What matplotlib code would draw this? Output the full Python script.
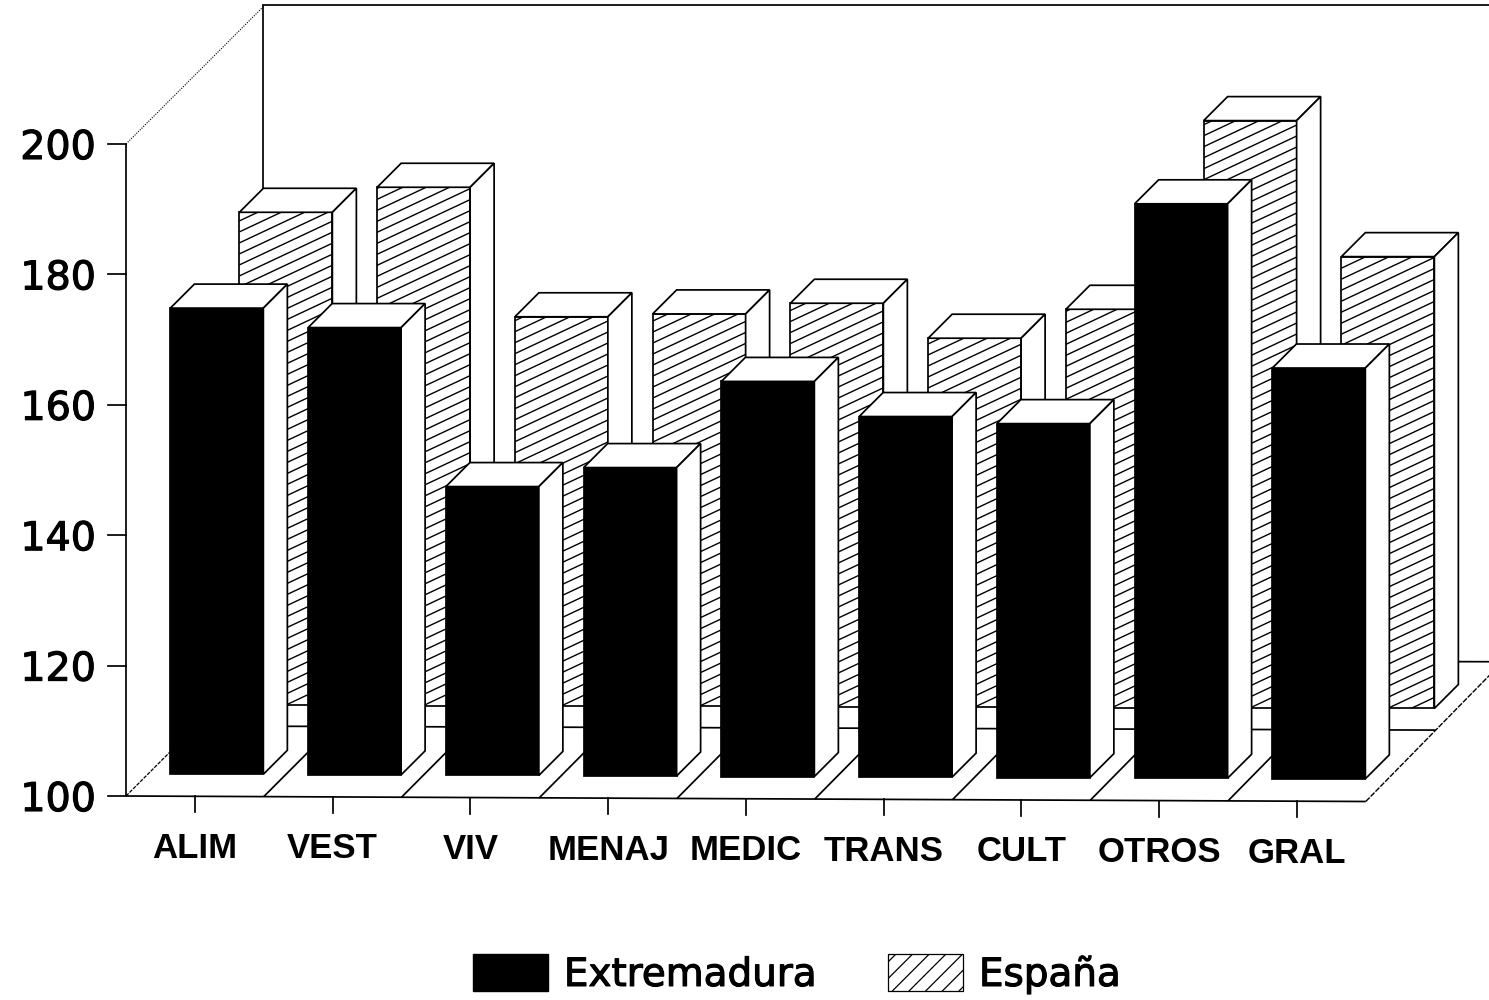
import numpy as np
import matplotlib
matplotlib.use("Agg")
import matplotlib.pyplot as plt
import matplotlib.patheffects as pe
from matplotlib.patches import Polygon, Patch
from matplotlib.collections import LineCollection

categories = ["ALIM", "VEST", "VIV", "MENAJ", "MEDIC", "TRANS", "CULT", "OTROS", "GRAL"]
extremadura = [171.5, 168.6, 144.3, 147.3, 160.6, 155.3, 154.3, 188.1, 163.0]
espana = [175.6, 179.5, 159.7, 160.2, 161.9, 156.6, 161.1, 190.1, 169.3]
y_ticks = [100, 120, 140, 160, 180, 200]

# pseudo 3d layout, all in reference pixels
W, H = 1489, 1000
X0, Y0 = 126, 796
CAT_PX = 137.75
VAL_PX = 6.52
WALL_DEPTH = 137
ROW_DEPTH = 70
BAR_DEPTH = 24
FRONT_D = 22
REAR_D = 91
BAR_W = 0.675
TILT = 5.5
LW = 1.25

plt.rcParams["hatch.linewidth"] = 0.9
heavy = [pe.withStroke(linewidth=0.8, foreground="black")]


def project(x, y, d=0.0):
    # category/value/depth to flat data coordinates, the scan is slightly tilted
    tilt = TILT * (x / 9) * (1 - 0.5 * d / WALL_DEPTH)
    return x + d / CAT_PX, y + (d - tilt) / VAL_PX


def line(ax, pts, z=1, **kw):
    xs, ys = zip(*[project(*p) for p in pts])
    kw.setdefault("color", "black")
    kw.setdefault("lw", LW)
    ax.plot(xs, ys, zorder=z, solid_capstyle="butt", **kw)


def draw_bars(ax, values, d, z, color, hatched):
    for i, v in enumerate(values):
        cx, base = project(i + 0.5, 100, d)
        top = base + (v - 100)
        rect = ax.bar(cx, v - 100, BAR_W, bottom=base, color=color, edgecolor="black",
                      lw=LW, zorder=z)[0]
        left, right = cx - BAR_W / 2, cx + BAR_W / 2
        dx, dy = BAR_DEPTH / CAT_PX, BAR_DEPTH / VAL_PX
        ax.add_patch(Polygon([(left, top), (right, top), (right + dx, top + dy), (left + dx, top + dy)],
                             fc="white", ec="black", lw=LW, zorder=z))
        ax.add_patch(Polygon([(right, top), (right + dx, top + dy), (right + dx, base + dy), (right, base)],
                             fc="white", ec="black", lw=LW, zorder=z))
        if hatched:
            slope = 0.47 * CAT_PX / VAL_PX
            step = 11 / VAL_PX
            offs = np.arange(base - slope * BAR_W, top + step, step)
            segs = [[(left, c), (right, c + slope * BAR_W)] for c in offs]
            lc = LineCollection(segs, colors="black", linewidths=1.0, zorder=z + 0.1)
            ax.add_collection(lc, autolim=False)
            lc.set_clip_path(rect)


fig = plt.figure(figsize=(W / 100, H / 100), dpi=100)
ax = fig.add_axes([0, 0, 1, 1])
ax.set_xlim(-X0 / CAT_PX, (W - X0) / CAT_PX)
ax.set_ylim(100 + (Y0 - H) / VAL_PX, 100 + Y0 / VAL_PX)
ax.axis("off")

# walls and floor
n = len(categories)
line(ax, [(0, 100), (0, 200)])
line(ax, [(0, 100), (n, 100)])
line(ax, [(0, 200), (0, 200, WALL_DEPTH)], lw=0.8, ls=(0, (1, 1.2)))
line(ax, [(0, 100), (0, 100, WALL_DEPTH)], lw=0.9, ls=(0, (3, 1)))
line(ax, [(0, 200.3, WALL_DEPTH), (0, 100, WALL_DEPTH)])
wall_x, wall_y = project(0, 200.3, WALL_DEPTH)
ax.plot([wall_x, wall_x + n + 1], [wall_y, wall_y], color="black", lw=LW, zorder=1)
line(ax, [(0, 100, WALL_DEPTH), (n + 1, 100, WALL_DEPTH)])
line(ax, [(n, 100), (n, 100, WALL_DEPTH)], lw=1.0, ls=(0, (4, 1)))
line(ax, [(0, 100, ROW_DEPTH), (n, 100, ROW_DEPTH)])
for i in range(1, n):
    line(ax, [(i, 100), (i, 100, ROW_DEPTH)])

draw_bars(ax, espana, REAR_D, 2, "white", True)
draw_bars(ax, extremadura, FRONT_D, 3, "black", False)

# ticks and labels
tick_dx = 18 / CAT_PX
for v in y_ticks:
    ax.plot([-tick_dx, 0], [v, v], color="black", lw=LW, zorder=1)
    ax.text(-30 / CAT_PX, v - 4 / VAL_PX, str(v), ha="right", va="center", fontsize=28.5,
            family="DejaVu Sans", path_effects=heavy)

for i, name in enumerate(categories):
    x, y = project(i + 0.5, 100)
    ax.plot([x, x], [y, y - 16 / VAL_PX], color="black", lw=LW, zorder=1)
    ax.text(x, y - 52 / VAL_PX, name, ha="center", va="center", fontsize=25,
            family="Liberation Sans", weight="bold")

handles = [Patch(fc="black", ec="black", label="Extremadura"),
           Patch(fc="white", ec="black", hatch="//", lw=0.9, label="España")]
leg = ax.legend(handles=handles, ncol=2, frameon=False, loc="center", bbox_to_anchor=(797 / W, 1 - 974 / H),
                prop={"family": "DejaVu Sans", "size": 28}, handlelength=1.93, handleheight=1.1,
                handletextpad=0.4, columnspacing=1.85, borderpad=0, borderaxespad=0)
for t in leg.get_texts():
    t.set_path_effects(heavy)

fig.savefig("out.png", dpi=100)
